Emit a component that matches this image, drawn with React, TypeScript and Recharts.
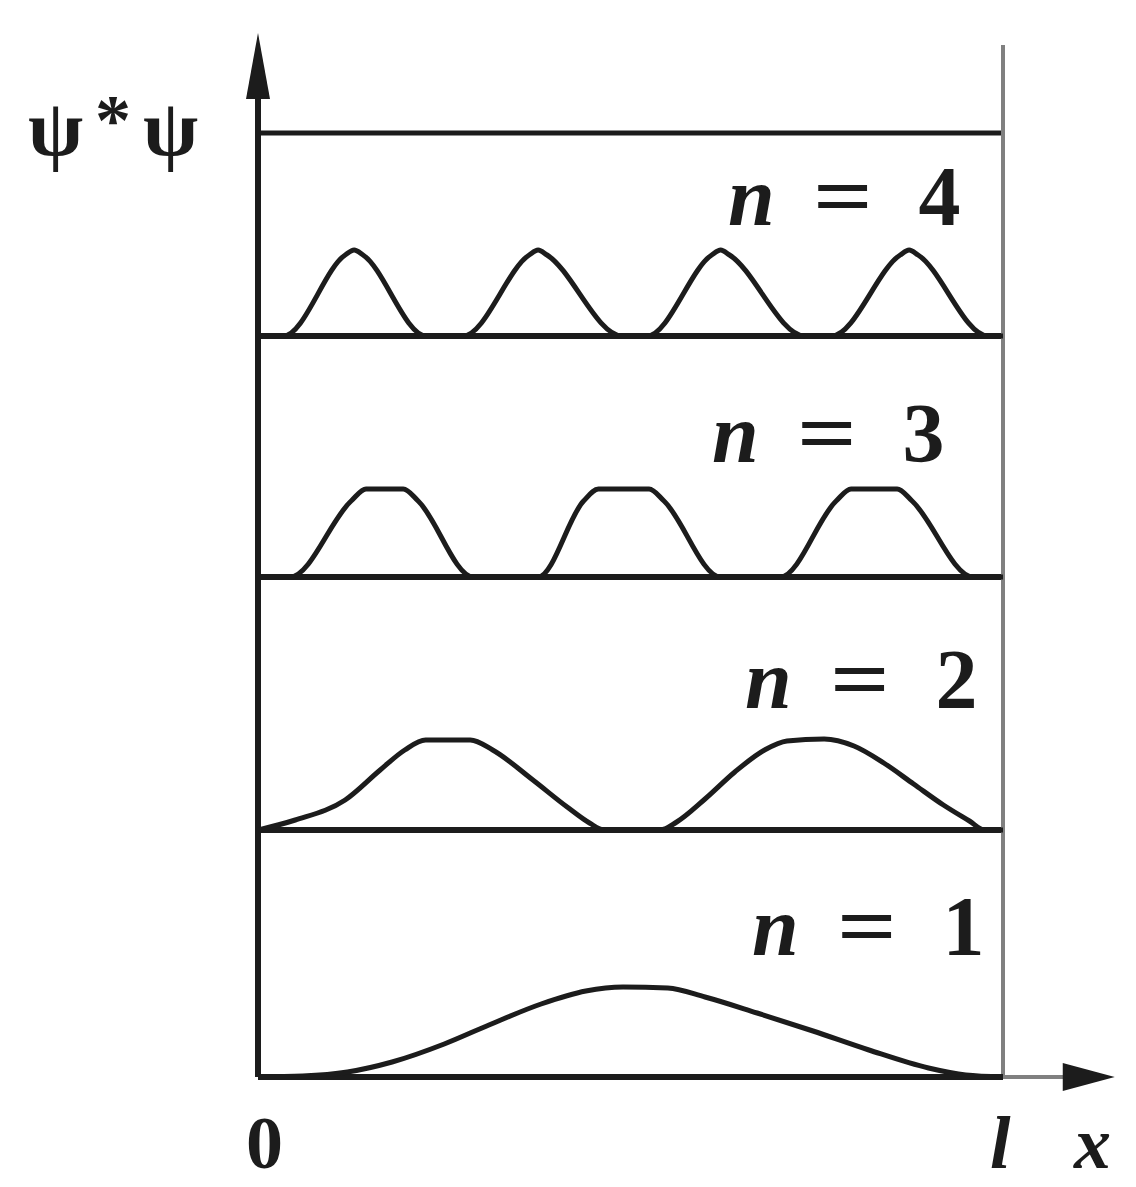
import { LineChart, Line, XAxis, YAxis, ReferenceLine, ReferenceDot } from "recharts";

// x in units of l (0..1), y = psi*psi drawn above each level's baseline (arbitrary units)
const LEVELS = ["n = 1", "n = 2", "n = 3", "n = 4"];
const BASELINES = [0, 247, 500, 741];
const TOP_LINE = 944;
const WALL_TOP = 1032;
const AXIS_TOP = 1044;
const AXIS_RIGHT = 1.15;

const n1X = [0, 0.06, 0.12, 0.18, 0.25, 0.31, 0.38, 0.44, 0.49, 0.55, 0.6, 0.67, 0.745, 0.82, 0.9, 0.95, 1];
const n1Y = [0, 1, 5, 15, 33, 52, 73, 86, 90, 89, 80, 64, 46, 27, 9, 2, 0];

const n2X = [0, 0.05, 0.117, 0.164, 0.197, 0.225, 0.285, 0.315, 0.369, 0.415, 0.445, 0.465, 0.54, 0.562, 0.6, 0.64, 0.68, 0.71, 0.76, 0.8, 0.84, 0.88, 0.92, 0.955, 0.975, 1];
const n2Y = [247, 257, 277, 307, 327, 337, 337, 327, 297, 270, 254, 247, 247, 255, 278, 305, 327, 336, 338, 331, 314, 293, 272, 256, 247, 247];

const n3X = [0, 0.043, 0.125, 0.145, 0.195, 0.215, 0.289, 0.376, 0.437, 0.457, 0.525, 0.545, 0.621, 0.701, 0.776, 0.796, 0.858, 0.878, 0.96, 1];
const n3Y = [500, 500, 576, 588, 588, 576, 500, 500, 576, 588, 588, 576, 500, 500, 576, 588, 588, 576, 500, 500];

const n4X = [0, 0.034, 0.117, 0.129, 0.141, 0.226, 0.275, 0.364, 0.376, 0.388, 0.489, 0.522, 0.609, 0.621, 0.633, 0.734, 0.77, 0.862, 0.874, 0.886, 0.98, 1];
const n4Y = [741, 741, 822, 827, 822, 741, 741, 822, 827, 822, 741, 741, 822, 827, 822, 741, 741, 822, 827, 822, 741, 741];

const zip = (xs: number[], ys: number[]) => xs.map((x, i) => ({ x, y: ys[i] }));
const series = [zip(n1X, n1Y), zip(n2X, n2Y), zip(n3X, n3Y), zip(n4X, n4Y)];

// label positions on the page (left of "n", text baseline)
const labelPos = [
  { left: 752, base: 955 },
  { left: 745, base: 708 },
  { left: 712, base: 462 },
  { left: 728, base: 225 },
];

const INK = "#1c1c1c";
const FONT = "'Liberation Serif', 'DejaVu Serif', serif";

function UpArrow(props: any) {
  const { cx, cy } = props;
  return <polygon points={`${cx},${cy} ${cx - 12},${cy + 66} ${cx + 12},${cy + 66}`} fill={INK} />;
}

function RightArrow(props: any) {
  const { cx, cy } = props;
  return <polygon points={`${cx},${cy} ${cx - 52},${cy - 14} ${cx - 52},${cy + 14}`} fill={INK} />;
}

function LevelLabel({ text, left, base }: { text: string; left: number; base: number }) {
  const F = 84;
  const digit = text.split(" ")[2];
  return (
    <div
      style={{
        position: "absolute",
        left,
        top: base - 0.8375 * F,
        fontFamily: FONT,
        fontSize: F,
        lineHeight: 1,
        fontWeight: 700,
        color: INK,
        display: "flex",
        whiteSpace: "nowrap",
      }}
    >
      <span style={{ fontStyle: "italic" }}>n</span>
      <span style={{ marginLeft: 44, display: "inline-block", transform: "scaleX(1.25)" }}>=</span>
      <span style={{ marginLeft: 52 }}>{digit}</span>
    </div>
  );
}

const AXIS_F = 74;
const axisText = {
  position: "absolute" as const,
  top: 1168 - 0.8375 * AXIS_F,
  fontFamily: FONT,
  fontSize: AXIS_F,
  fontWeight: 700,
  lineHeight: 1,
  color: INK,
};

export default function App() {
  return (
    <div style={{ position: "absolute", left: 0, top: 0, width: 1136, height: 1187, background: "#fff" }}>
      <LineChart
        width={1136}
        height={1187}
        margin={{ top: 30, right: 133, bottom: 110, left: 258 }}
      >
        <XAxis type="number" dataKey="x" domain={[0, 1]} hide allowDataOverflow />
        <YAxis type="number" dataKey="y" domain={[0, 1047]} hide allowDataOverflow />

        {/* level lines */}
        {BASELINES.slice(1).map((b) => (
          <ReferenceLine key={b} segment={[{ x: 0, y: b }, { x: 1, y: b }]} stroke={INK} strokeWidth={6} />
        ))}
        <ReferenceLine segment={[{ x: 0, y: TOP_LINE }, { x: 1, y: TOP_LINE }]} stroke={INK} strokeWidth={5} />

        {/* right wall at x = l */}
        <ReferenceLine segment={[{ x: 1, y: 0 }, { x: 1, y: WALL_TOP }]} stroke="#808080" strokeWidth={4} />

        {/* axes with arrows */}
        <ReferenceLine segment={[{ x: 0, y: 0 }, { x: 1, y: 0 }]} stroke={INK} strokeWidth={6} />
        <ReferenceLine
          segment={[{ x: 1, y: 0 }, { x: AXIS_RIGHT - 0.05, y: 0 }]}
          stroke="#808080"
          strokeWidth={4}
          ifOverflow="visible"
        />
        <ReferenceLine segment={[{ x: 0, y: 0 }, { x: 0, y: AXIS_TOP - 40 }]} stroke={INK} strokeWidth={6} />
        <ReferenceDot x={0} y={AXIS_TOP} shape={<UpArrow />} ifOverflow="visible" />
        <ReferenceDot x={AXIS_RIGHT} y={0} shape={<RightArrow />} ifOverflow="visible" />

        {series.map((d, i) => (
          <Line
            key={LEVELS[i]}
            data={d}
            dataKey="y"
            type="monotone"
            stroke={INK}
            strokeWidth={5}
            dot={false}
            isAnimationActive={false}
          />
        ))}
      </LineChart>

      {/* y label */}
      <div
        style={{
          position: "absolute",
          left: 28,
          top: 84,
          fontFamily: FONT,
          fontSize: 80,
          fontWeight: 700,
          lineHeight: 1,
          color: INK,
          whiteSpace: "nowrap",
        }}
      >
        ψ<sup style={{ fontSize: 72, verticalAlign: "0.15em", margin: "0 12px" }}>*</sup>ψ
      </div>

      {LEVELS.map((t, i) => (
        <LevelLabel key={t} text={t} left={labelPos[i].left} base={labelPos[i].base} />
      ))}

      {/* x axis labels */}
      <div style={{ ...axisText, left: 246 }}>0</div>
      <div style={{ ...axisText, left: 990, fontStyle: "italic" }}>l</div>
      <div style={{ ...axisText, left: 1074, fontStyle: "italic" }}>x</div>
    </div>
  );
}
